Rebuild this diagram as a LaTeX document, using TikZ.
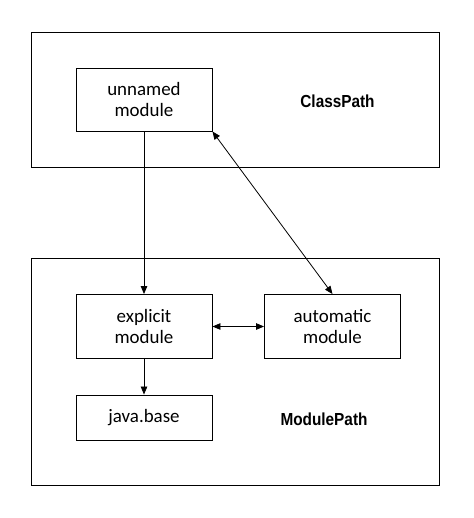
\documentclass[tikz,border=0pt]{standalone}
\usepackage{fontspec}
\setmainfont{Carlito}
\newfontfamily\labelfont[FakeStretch=0.88]{Liberation Sans}
\usetikzlibrary{arrows.meta}
\begin{document}
\begin{tikzpicture}[x=1bp,y=-1bp,
  box/.style={draw, line width=0.9bp, minimum width=136bp, inner sep=0pt, align=center,
    font=\fontsize{19}{22}\selectfont},
  region/.style={draw, line width=0.9bp, minimum width=408bp, inner sep=0pt},
  lbl/.style={font=\labelfont\bfseries\fontsize{17.5}{20}\selectfont, inner sep=0pt},
  arr/.style={line width=0.8bp, -{Triangle[length=8bp,width=6.5bp]}},
  darr/.style={line width=0.8bp, {Triangle[length=8bp,width=6.5bp]}-{Triangle[length=8bp,width=6.5bp]}}]
\useasboundingbox (0,0) rectangle (474,518);
\node[region, minimum height=135bp] (cp) at (235,99.5) {};
\node[region, minimum height=227bp] (mp) at (235,371.5) {};
\node[box, minimum height=63bp] (unnamed) at (144,99.5) {unnamed\\module};
\node[box, minimum height=64bp] (expl) at (144,326.5) {explicit\\module};
\node[box, minimum height=64bp] (auto) at (332.5,326.5) {automatic\\module};
\node[box, minimum height=45bp] (jb) at (144,417.5) {java.base};
\node[lbl] (cpl) at (337.5,101) {ClassPath};
\node[lbl] (mpl) at (324,419) {ModulePath};
\draw[arr] (unnamed.south) -- (expl.north);
\draw[arr] (expl.south) -- (jb.north);
\draw[darr] (unnamed.south east) -- (auto.north);
\draw[darr] (expl.east) -- (auto.west);
\end{tikzpicture}
\end{document}
